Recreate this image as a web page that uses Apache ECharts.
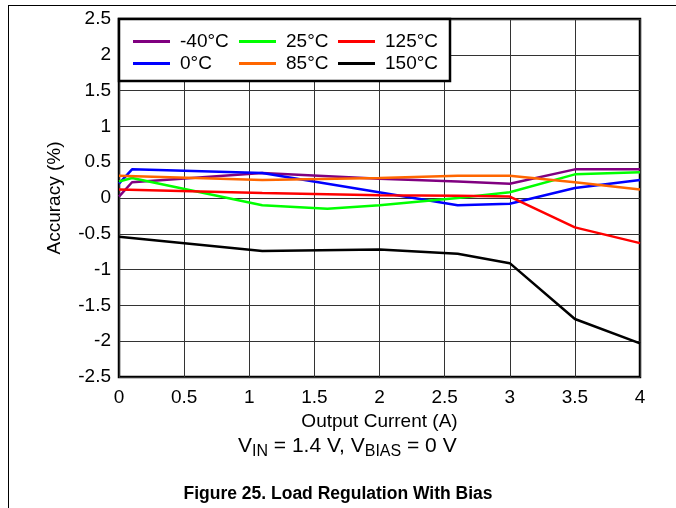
<!DOCTYPE html>
<html><head><meta charset="utf-8">
<script src="https://cdn.jsdelivr.net/npm/echarts@6/dist/echarts.min.js"></script>
<style>html,body{margin:0;padding:0;background:#fff}#c{width:676px;height:508px}</style>
</head><body><div id="c"></div>
<script>
const seriesNames = ['-40°C', '0°C', '25°C', '85°C', '125°C', '150°C'];
const seriesColors = ['#800080', '#0000ff', '#00ff00', '#ff6600', '#ff0000', '#000000'];
const dataM40 = [[0,0.02],[0.1,0.22],[1.1,0.35],[2,0.27],[2.6,0.23],[3,0.2],[3.5,0.4],[4,0.4]];
const data0 = [[0,0.2],[0.1,0.4],[1.1,0.35],[2.6,-0.1],[3,-0.08],[3.5,0.14],[4,0.25]];
const data25 = [[0,0.23],[0.1,0.28],[1.1,-0.1],[1.6,-0.15],[2,-0.1],[2.6,0.0],[3,0.08],[3.5,0.33],[4,0.36]];
const data85 = [[0,0.31],[1.1,0.25],[2,0.28],[2.6,0.31],[3,0.31],[3.5,0.22],[4,0.12]];
const data125 = [[0,0.12],[1.1,0.07],[2,0.04],[2.6,0.03],[3,0.02],[3.5,-0.41],[4,-0.63]];
const data150 = [[0,-0.54],[1.1,-0.74],[2,-0.72],[2.6,-0.78],[3,-0.91],[3.5,-1.69],[4,-2.03]];
const seriesData = [dataM40, data0, data25, data85, data125, data150];
const xTicks = [0, 0.5, 1, 1.5, 2, 2.5, 3, 3.5, 4];
const yTicks = [-2.5, -2, -1.5, -1, -0.5, 0, 0.5, 1, 1.5, 2, 2.5];

const FONT = 'Liberation Sans, Arial, sans-serif';
const chart = echarts.init(document.getElementById('c'));
const legendCols = [[0,1],[2,3],[4,5]];
const legendLefts = [133, 239, 338];
chart.setOption({
  animation: false,
  grid: {left: 119, right: 36, top: 19, bottom: 131, show: true, borderColor: '#000', borderWidth: 2.5, backgroundColor: 'transparent'},
  xAxis: {
    type: 'value', min: 0, max: 4, interval: 0.5,
    name: 'Output Current (A)', nameLocation: 'middle', nameGap: 29,
    nameTextStyle: {color: '#000', fontSize: 19, fontFamily: FONT},
    axisLine: {show: false}, axisTick: {show: false},
    axisLabel: {color: '#000', fontSize: 19, fontFamily: FONT, margin: 11,
      formatter: v => xTicks.includes(v) ? String(v) : ''},
    splitLine: {show: true, lineStyle: {color: '#333', width: 1}}
  },
  yAxis: {
    type: 'value', min: -2.5, max: 2.5, interval: 0.5,
    name: 'Accuracy (%)', nameLocation: 'middle', nameGap: 55,
    nameTextStyle: {color: '#000', fontSize: 19, fontFamily: FONT},
    axisLine: {show: false}, axisTick: {show: false},
    axisLabel: {color: '#000', fontSize: 19, fontFamily: FONT, margin: 8,
      formatter: v => yTicks.includes(v) ? String(v) : ''},
    splitLine: {show: true, lineStyle: {color: '#333', width: 1}}
  },
  legend: legendCols.map((col, i) => ({
    orient: 'vertical', left: legendLefts[i], top: 32, itemGap: 3, z: 10,
    itemWidth: 37, itemHeight: 3, icon: 'rect', padding: 0,
    textStyle: {color: '#000', fontSize: 19, fontFamily: FONT, padding: [0,0,0,5]},
    data: col.map(k => seriesNames[k]), selectedMode: false
  })),
  series: seriesNames.map((n, i) => ({
    name: n, type: 'line', data: seriesData[i], showSymbol: false, symbol: 'none',
    color: seriesColors[i], lineStyle: {width: 2.5, color: seriesColors[i]}, z: 2
  })),
  graphic: [
    {type: 'rect', shape: {x: 119, y: 19, width: 331, height: 62}, style: {fill: '#fff', stroke: '#000', lineWidth: 2.5}, z: 5},
    {type: 'line', shape: {x1: 8, y1: 5.5, x2: 676, y2: 5.5}, style: {stroke: '#000', lineWidth: 1}},
    {type: 'line', shape: {x1: 8.5, y1: 5, x2: 8.5, y2: 508}, style: {stroke: '#000', lineWidth: 1}},
    {type: 'text', left: 238, top: 436, z: 10, style: {
      text: '{n|V}{s|IN}{n| = 1.4 V, V}{s|BIAS}{n| = 0 V}',
      rich: {n: {fontSize: 21, fontFamily: FONT, fill: '#000'}, s: {fontSize: 16, fontFamily: FONT, fill: '#000', padding: [11,0,0,0]}}
    }},
    {type: 'text', left: 'center', top: 485, z: 10, style: {
      text: 'Figure 25. Load Regulation With Bias', fontSize: 17.5, fontWeight: 'bold', fontFamily: FONT, fill: '#000'
    }}
  ]
});
</script></body></html>
